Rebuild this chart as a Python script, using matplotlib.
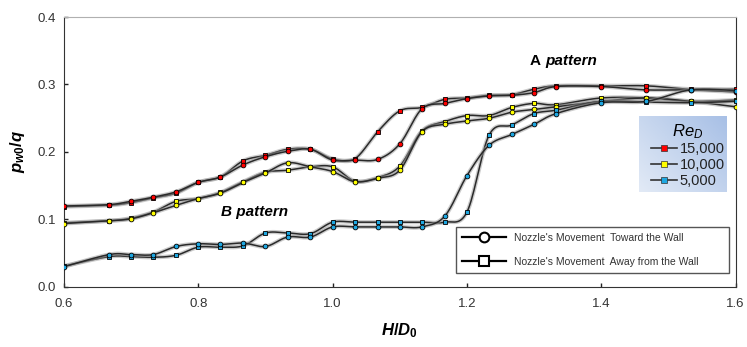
import numpy as np
import matplotlib
matplotlib.use("Agg")
import matplotlib.pyplot as plt
import matplotlib.patheffects as pe
from matplotlib.lines import Line2D

plt.rcParams['font.family'] = ['Liberation Sans', 'DejaVu Sans']
plt.rcParams['mathtext.fontset'] = 'custom'
plt.rcParams['mathtext.it'] = 'Liberation Sans:italic:bold'
plt.rcParams['mathtext.rm'] = 'Liberation Sans:bold'
plt.rcParams['mathtext.sf'] = 'Liberation Sans:italic'

# H/D0 positions
h_d = [0.6, 0.667, 0.7, 0.733, 0.767, 0.8, 0.833, 0.867, 0.9, 0.933, 0.967, 1.0, 1.033,
       1.067, 1.1, 1.133, 1.167, 1.2, 1.233, 1.267, 1.3, 1.333, 1.4, 1.467, 1.533, 1.6]

# pw0/q, nozzle moving toward the wall (circles)
red_toward = [0.120, 0.122, 0.127, 0.133, 0.141, 0.155, 0.163, 0.181, 0.193, 0.201, 0.204, 0.188, 0.188,
              0.189, 0.212, 0.264, 0.272, 0.279, 0.283, 0.284, 0.288, 0.297, 0.297, 0.292, 0.292, 0.289]
yel_toward = [0.094, 0.098, 0.101, 0.110, 0.121, 0.131, 0.139, 0.155, 0.169, 0.184, 0.178, 0.171, 0.156,
              0.161, 0.173, 0.230, 0.241, 0.246, 0.250, 0.259, 0.263, 0.267, 0.275, 0.280, 0.275, 0.267]
blu_toward = [0.030, 0.048, 0.048, 0.048, 0.060, 0.064, 0.063, 0.065, 0.060, 0.074, 0.074, 0.089, 0.089,
              0.089, 0.089, 0.089, 0.105, 0.165, 0.210, 0.226, 0.241, 0.257, 0.273, 0.275, 0.292, 0.291]

# pw0/q, nozzle moving away from the wall (squares)
red_away = [0.119, 0.121, 0.125, 0.132, 0.139, 0.155, 0.163, 0.187, 0.195, 0.204, 0.204, 0.190, 0.190,
            0.230, 0.261, 0.266, 0.278, 0.280, 0.284, 0.285, 0.293, 0.298, 0.298, 0.298, 0.293, 0.293]
yel_away = [0.095, 0.098, 0.102, 0.111, 0.127, 0.131, 0.140, 0.156, 0.170, 0.173, 0.178, 0.178, 0.157,
            0.162, 0.179, 0.231, 0.245, 0.254, 0.254, 0.266, 0.272, 0.270, 0.280, 0.280, 0.275, 0.277]
blu_away = [0.031, 0.045, 0.045, 0.044, 0.047, 0.059, 0.059, 0.061, 0.080, 0.080, 0.079, 0.096, 0.096,
            0.096, 0.096, 0.096, 0.096, 0.111, 0.225, 0.240, 0.257, 0.262, 0.275, 0.274, 0.273, 0.275]

re_labels = ['15,000', '10,000', '5,000']
re_colors = ['#ff0000', '#ffff00', '#1ea7e1']


def smooth(x, y, n=16):
    # excel-like smoothed line (catmull-rom through the points)
    x = np.asarray(x, float)
    y = np.asarray(y, float)
    px = np.r_[x[0], x, x[-1]]
    py = np.r_[y[0], y, y[-1]]
    xs, ys = [], []
    t = np.linspace(0, 1, n, endpoint=False)
    for i in range(1, len(px) - 2):
        p0, p1, p2, p3 = (np.array([px[j], py[j]]) for j in (i - 1, i, i + 1, i + 2))
        c1 = p1 + (p2 - p0) / 6
        c2 = p2 - (p3 - p1) / 6
        b = ((1 - t) ** 3)[:, None] * p1 + (3 * (1 - t) ** 2 * t)[:, None] * c1 \
            + (3 * (1 - t) * t ** 2)[:, None] * c2 + (t ** 3)[:, None] * p2
        xs.extend(b[:, 0]); ys.extend(b[:, 1])
    xs.append(x[-1]); ys.append(y[-1])
    return xs, ys


fig = plt.figure(figsize=(7.47, 3.47), dpi=100)
ax = fig.add_axes([0.0857, 0.173, 0.899, 0.778])

glow = [pe.Stroke(linewidth=3.0, foreground='#9a9a9a', alpha=0.5), pe.Normal()]

series = [(red_toward, red_away), (yel_toward, yel_away), (blu_toward, blu_away)]
for (tow, awy), col in zip(series, re_colors):
    for vals, mk, ms in ((awy, 's', 3.5), (tow, 'o', 3.4)):
        sx, sy = smooth(h_d, vals)
        ax.plot(sx, sy, color='#2a2a2a', lw=1.1, path_effects=glow, zorder=2)
        ax.plot(h_d, vals, ls='none', marker=mk, ms=ms, mfc=col, mec='black', mew=0.6, zorder=3)

ax.set_xlim(0.6, 1.6)
ax.set_ylim(0.0, 0.4)
ax.set_xticks([0.6, 0.8, 1.0, 1.2, 1.4, 1.6])
ax.set_yticks([0.0, 0.1, 0.2, 0.3, 0.4])
ax.xaxis.set_major_formatter(matplotlib.ticker.FormatStrFormatter('%.1f'))
ax.yaxis.set_major_formatter(matplotlib.ticker.FormatStrFormatter('%.1f'))
ax.tick_params(direction='in', length=3, width=1, labelsize=9.5, colors='#222222', labelcolor='#333333')
ax.tick_params(axis='x', pad=8)
ax.tick_params(axis='y', pad=6)
for s in ['left', 'bottom', 'right']:
    ax.spines[s].set_color('#333333')
ax.spines['top'].set_color('#b0b0b0')

ax.set_xlabel(r'$H/D_0$', fontsize=12, labelpad=8)
ax.set_ylabel(r'$p_{w0}/q$', fontsize=12, labelpad=7)

ax.text(1.293, 0.335, 'A', fontsize=11, fontweight='bold', ha='left', va='center')
ax.text(1.316, 0.335, 'pattern', fontsize=11, fontweight='bold', style='italic', ha='left', va='center')
ax.text(0.834, 0.111, 'B pattern', fontsize=11, fontweight='bold', style='italic', ha='left', va='center')

# movement legend
mv = [Line2D([], [], color='black', lw=1.6, marker='o', ms=7, mfc='white', mec='black', mew=1.5),
      Line2D([], [], color='black', lw=1.6, marker='s', ms=7, mfc='white', mec='black', mew=1.5)]
leg1 = ax.legend(mv, ["Nozzle's Movement  Toward the Wall", "Nozzle's Movement  Away from the Wall"],
                 loc='lower left', bbox_to_anchor=(0.576, 0.033, 0.422, 0.182), mode='expand',
                 fontsize=7.5, handlelength=4.2, handletextpad=0.8, labelspacing=1.3,
                 borderpad=0.6, fancybox=False, edgecolor='#555555', framealpha=1)
leg1.get_frame().set_linewidth(1.0)
for t in leg1.get_texts():
    t.set_color('#333333')
ax.add_artist(leg1)

# Re_D legend with blue gradient box
gx, gy = np.meshgrid(np.linspace(0, 1, 50), np.linspace(0, 1, 50))
grad = 0.55 * gx + 0.45 * gy
ax.imshow(grad, extent=[0.856, 0.987, 0.352, 0.630], transform=ax.transAxes, aspect='auto',
          cmap=matplotlib.colors.LinearSegmentedColormap.from_list('bl', ['#e2eaf6', '#a8c0e6']),
          origin='lower', zorder=4)
rh = [Line2D([], [], color='#333333', lw=1.2, marker='s', ms=4, mfc=c, mec='#333333', mew=0.5)
      for c in re_colors]
leg2 = ax.legend(rh, re_labels, title=r'$\mathsf{Re}_{\mathsf{D}}$', loc='upper left',
                 bbox_to_anchor=(0.856, 0.655), frameon=False, fontsize=10.5,
                 handlelength=1.8, handletextpad=0.2, labelspacing=0.12, borderpad=0.3,
                 title_fontsize=12)
for t in leg2.get_texts():
    t.set_color('#222222')

ax.set_xlim(0.6, 1.6)
ax.set_ylim(0.0, 0.4)

fig.savefig('out.png', dpi=100)
